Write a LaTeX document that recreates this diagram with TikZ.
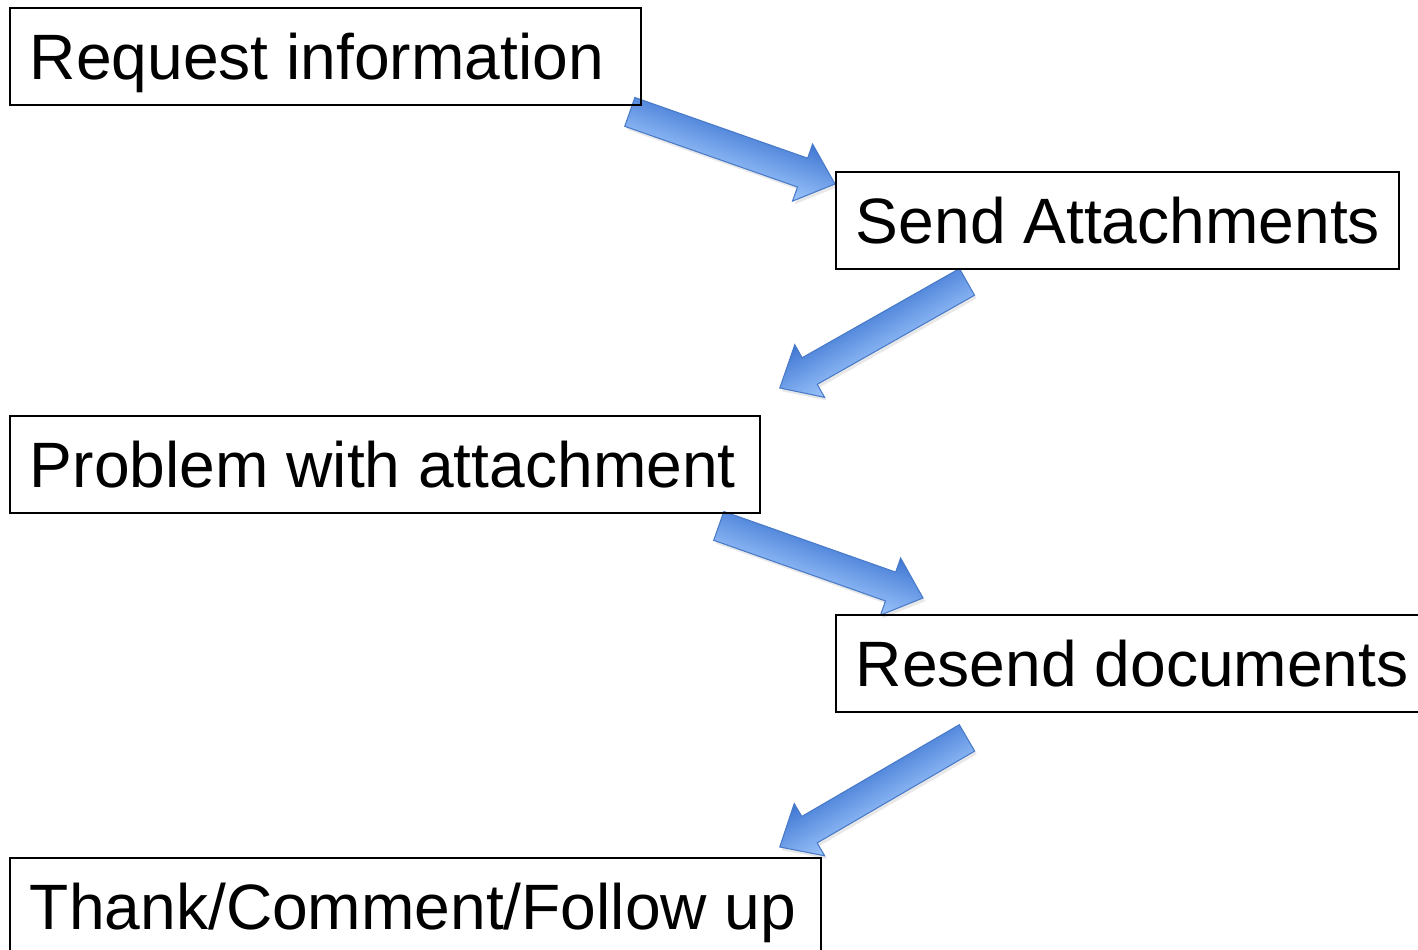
\documentclass[tikz,border=0pt]{standalone}
\usepackage{fontspec}
\setmainfont{Liberation Sans}
\usetikzlibrary{calc,shadows,backgrounds}
\definecolor{arrdark}{RGB}{62,118,210}
\definecolor{arrlight}{RGB}{158,198,252}
\definecolor{arredge}{RGB}{72,122,200}
\tikzset{
  box/.style={draw=black, line width=1.1pt, anchor=north west, inner xsep=0.40cm, inner ysep=0pt,
    minimum height=1.94cm, text height=26.1pt, text depth=0pt,
    font=\fontsize{36.5}{44}\selectfont},
  blockarrow/.style={draw=arredge, line width=0.6pt},
  darkup/.style={top color=arrdark, bottom color=arrlight},
  darkdown/.style={top color=arrlight, bottom color=arrdark}
}
\newcommand{\blockarrowdraw}[3]{%
  \path (#1); \pgfgetlastxy{\tx}{\ty}%
  \path (#2); \pgfgetlastxy{\hx}{\hy}%
  \pgfmathsetmacro\ang{atan2(\hy-\ty,\hx-\tx)}%
  \pgfmathsetmacro\len{veclen(\hx-\tx,\hy-\ty)}%
  \pgfmathsetmacro\bx{\len-19.56}%
  \pgfmathsetmacro\sx{1.2*cos(\ang)-1.8*sin(\ang)}%
  \pgfmathsetmacro\sy{-1.2*sin(\ang)-1.8*cos(\ang)}%
  \begin{scope}[transform canvas={shift={(\tx,\ty)}, rotate=\ang}]
    \path[blockarrow, #3, drop shadow={opacity=0.18, shadow xshift=\sx pt, shadow yshift=\sy pt}]
      (0pt,8.7pt) -- (\bx pt,8.7pt) -- (\bx pt,17.2pt) -- (\len pt,0pt)
      -- (\bx pt,-17.2pt) -- (\bx pt,-8.7pt) -- (0pt,-8.7pt) -- cycle;
  \end{scope}
}
\begin{document}
\begin{tikzpicture}[x=0.02cm, y=-0.02cm]
\path[use as bounding box] (0,0) rectangle (1418,950);
\clip (0,0) rectangle (1418,950);
\node[box] (req) at (9,7) {\makebox[11.82cm][l]{Request information}};
\node[box] (send) at (835,171) {\makebox[10.46cm][l]{Send Attachments}};
\node[box] (prob) at (9,415) {\makebox[14.2cm][l]{Problem with attachment}};
\node[box] (resend) at (835,614) {\makebox[11.2cm][l]{Resend documents}};
\node[box] (thank) at (9,857) {\makebox[15.42cm][l]{Thank/Comment/Follow up}};
\coordinate (t1) at ($(req.south east)+(-12,6)$);
\coordinate (h1) at ($(send.north west)+(0,13)$);
\coordinate (t2) at ($(send.south west)+(132,12)$);
\coordinate (h2) at ($(prob.north east)+(19,-27)$);
\coordinate (t3) at ($(prob.south east)+(-42,12)$);
\coordinate (h3) at ($(resend.north west)+(88,-16)$);
\coordinate (t4) at ($(resend.south west)+(132,25)$);
\coordinate (h4) at ($(thank.north east)+(-42,-10)$);
\begin{scope}[on background layer]
\blockarrowdraw{t1}{h1}{darkup}
\blockarrowdraw{t2}{h2}{darkdown}
\blockarrowdraw{t3}{h3}{darkup}
\blockarrowdraw{t4}{h4}{darkdown}
\end{scope}
\end{tikzpicture}
\end{document}
